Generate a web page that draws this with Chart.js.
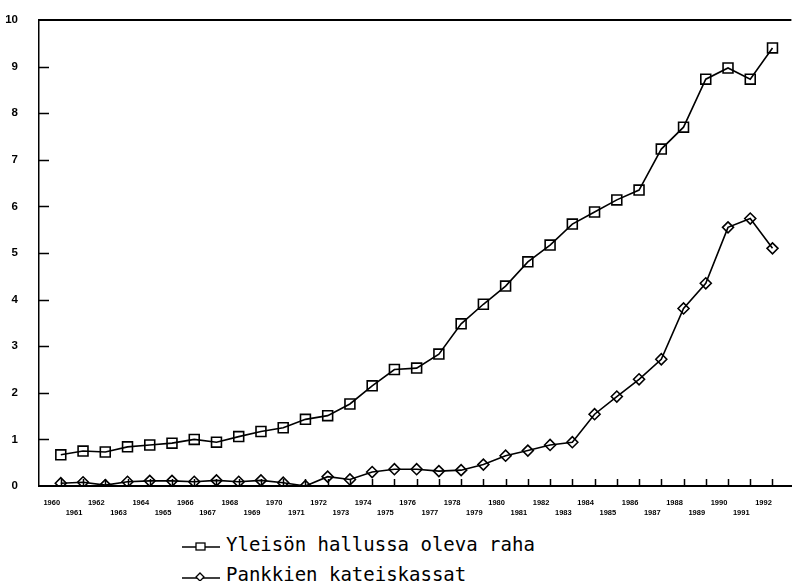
<!DOCTYPE html>
<html lang="fi">
<head>
<meta charset="UTF-8">
<title>Raha</title>
<script src="https://cdn.jsdelivr.net/npm/chart.js"></script>
<style>
  body { margin: 0; background: #fff; }
  #wrap { position: relative; width: 800px; height: 584px; }
  #box { position: absolute; left: 0; top: 0; width: 800px; height: 525px; }
  .leg { position: absolute; left: 182px; font-family: "DejaVu Sans Mono", monospace; font-size: 19px; color: #000; white-space: nowrap; display: flex; align-items: center; }
  .leg svg { margin-right: 6px; }
</style>
</head>
<body>
<div id="wrap">
  <div id="box"><canvas id="chart"></canvas></div>
  <div class="leg" style="top:533px">
    <svg width="38" height="14"><line x1="0" y1="10" x2="38" y2="10" stroke="#000" stroke-width="1.5"/><rect x="14" y="6" width="9" height="7" fill="#fff" stroke="#000" stroke-width="1.3"/></svg>Yleisön hallussa oleva raha
  </div>
  <div class="leg" style="top:563px">
    <svg width="38" height="14"><line x1="0" y1="11" x2="38" y2="11" stroke="#000" stroke-width="1.5"/><path d="M18 6 L22 10 L18 14 L14 10 Z" fill="#fff" stroke="#000" stroke-width="1.3"/></svg>Pankkien kateiskassat
  </div>
</div>
<script>
const years = [1960,1961,1962,1963,1964,1965,1966,1967,1968,1969,1970,1971,1972,1973,1974,1975,1976,
  1977,1978,1979,1980,1981,1982,1983,1984,1985,1986,1987,1988,1989,1990,1991,1992];
const yleisonRaha = [0.67,0.75,0.73,0.84,0.88,0.92,1.0,0.94,1.06,1.17,1.25,1.43,1.51,1.76,2.15,2.5,2.53,
  2.83,3.48,3.9,4.29,4.81,5.17,5.62,5.88,6.14,6.35,7.23,7.7,8.73,8.97,8.73,9.4];
const pankkienKassat = [0.06,0.08,0.02,0.09,0.11,0.11,0.09,0.12,0.09,0.12,0.07,0.0,0.2,0.14,0.3,0.36,0.36,
  0.32,0.34,0.46,0.65,0.76,0.88,0.94,1.54,1.92,2.29,2.72,3.81,4.35,5.55,5.74,5.1];
const yTicks = [0,1,2,3,4,5,6,7,8,9,10];

const toXY = arr => years.map((yr, i) => ({ x: yr, y: arr[i] }));

// ticks pointing into the plot + frame line at the top
const frame = {
  id: 'frame',
  afterDraw(chart) {
    const { ctx, chartArea: a, scales: { x, y } } = chart;
    ctx.save();
    ctx.strokeStyle = '#000';
    ctx.lineWidth = 1.5;
    ctx.beginPath();
    yTicks.forEach(v => {
      if (v === 0 || v === 10) return;
      const py = Math.round(y.getPixelForValue(v)) + 0.5;
      ctx.moveTo(a.left, py); ctx.lineTo(a.left + 10, py);
    });
    years.forEach(v => {
      const px = Math.round(x.getPixelForValue(v)) + 0.5;
      ctx.moveTo(px, a.bottom); ctx.lineTo(px, a.bottom - 7);
    });
    ctx.stroke();
    ctx.lineWidth = 2;
    ctx.beginPath();
    ctx.moveTo(a.left, a.top); ctx.lineTo(a.right, a.top);
    ctx.stroke();
    ctx.restore();
  }
};

new Chart(document.getElementById('chart'), {
  type: 'line',
  data: {
    datasets: [{
      label: 'Yleisön hallussa oleva raha',
      data: toXY(yleisonRaha),
      borderColor: '#000',
      borderWidth: 1.6,
      pointStyle: 'rect',
      pointRadius: 7,
      pointBorderWidth: 1.6,
      pointBackgroundColor: 'rgba(0,0,0,0)',
      pointBorderColor: '#000'
    }, {
      label: 'Pankkien kateiskassat',
      data: toXY(pankkienKassat),
      borderColor: '#000',
      borderWidth: 1.6,
      pointStyle: 'rectRot',
      pointRadius: 5.5,
      pointBorderWidth: 1.6,
      pointBackgroundColor: 'rgba(0,0,0,0)',
      pointBorderColor: '#000'
    }]
  },
  options: {
    responsive: true,
    maintainAspectRatio: false,
    animation: false,
    layout: { padding: { top: 20, right: 0, left: 0, bottom: 0 } },
    plugins: { legend: { display: false }, tooltip: { enabled: false } },
    scales: {
      x: {
        type: 'linear',
        min: 1959.02,
        max: 1992.85,
        afterBuildTicks: s => { s.ticks = years.map(v => ({ value: v })); },
        afterFit: s => { s.height = 39; },
        grid: { display: false },
        border: { color: '#000', width: 2 },
        ticks: {
          autoSkip: false,
          maxRotation: 0,
          labelOffset: -9,
          padding: 4,
          color: '#000',
          font: { family: 'Liberation Sans', size: 7.5, weight: 'bold', lineHeight: 1.35 },
          callback: v => (v % 2 ? ['', String(v)] : String(v))
        }
      },
      y: {
        min: 0,
        max: 10,
        afterBuildTicks: s => { s.ticks = yTicks.map(v => ({ value: v })); },
        afterFit: s => { s.width = 39; },
        grid: { display: false },
        border: { color: '#000', width: 1.5 },
        ticks: {
          padding: 13,
          color: '#000',
          font: { family: 'Liberation Sans', size: 11.5, weight: 'bold' }
        }
      }
    }
  },
  plugins: [frame]
});
</script>
</body>
</html>
